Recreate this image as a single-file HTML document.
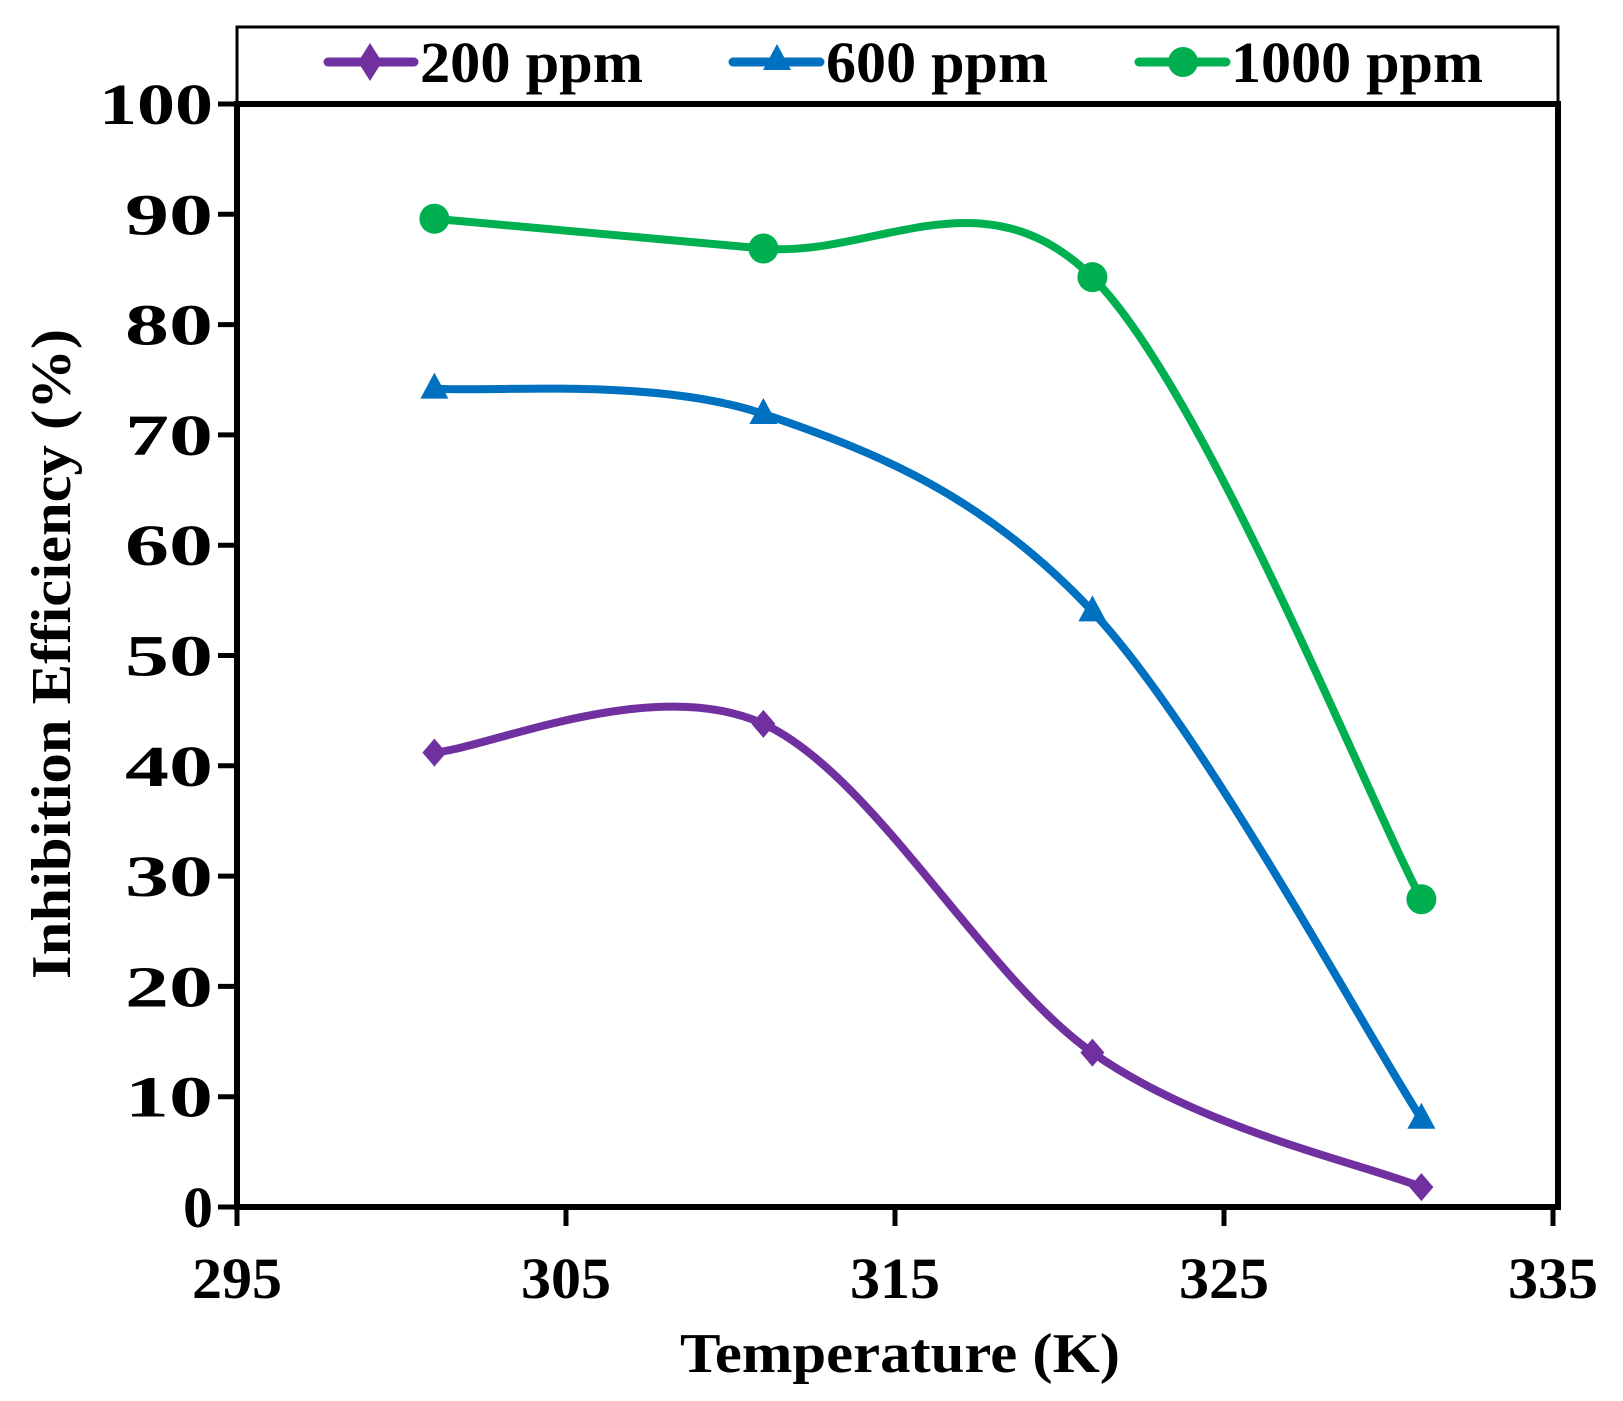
<!DOCTYPE html>
<html><head><meta charset="utf-8"><style>
html,body{margin:0;padding:0;background:#fff;}
svg{display:block;}
text{font-family:"Liberation Serif",serif;font-weight:bold;fill:#000;}
</style></head><body>
<svg id="s" width="1623" height="1401" viewBox="0 0 1623 1401" xmlns="http://www.w3.org/2000/svg">
<rect x="0" y="0" width="1623" height="1401" fill="#fff"/>
<rect x="237" y="27" width="1321" height="78" fill="#fff" stroke="#000" stroke-width="3"/>
<rect x="237" y="104" width="1321" height="1103" fill="none" stroke="#000" stroke-width="6"/>
<g id="ticks" stroke="#000" stroke-width="5"></g>
<g id="labels" font-size="58"></g>
<g id="series"></g>
<g font-size="58">
<line x1="328" y1="62" x2="414" y2="62" stroke="#7030a0" stroke-width="9" stroke-linecap="round"/>
<polygon points="370,43 382,62 370,81 358,62" fill="#7030a0"/>
<text x="420" y="82" textLength="223" lengthAdjust="spacingAndGlyphs">200 ppm</text>
<line x1="733" y1="62" x2="820" y2="62" stroke="#0070c0" stroke-width="9" stroke-linecap="round"/>
<polygon points="777,44 791,70 763,70" fill="#0070c0"/>
<text x="826" y="82" textLength="222" lengthAdjust="spacingAndGlyphs">600 ppm</text>
<line x1="1139" y1="62" x2="1226" y2="62" stroke="#00b050" stroke-width="9" stroke-linecap="round"/>
<circle cx="1183" cy="62" r="15" fill="#00b050"/>
<text x="1231" y="82" textLength="252" lengthAdjust="spacingAndGlyphs">1000 ppm</text>
</g>
<text x="900" y="1372" font-size="56" text-anchor="middle" textLength="440" lengthAdjust="spacingAndGlyphs">Temperature  (K)</text>
<text transform="translate(70,654) rotate(-90)" font-size="56" text-anchor="middle" textLength="650" lengthAdjust="spacingAndGlyphs">Inhibition  Efficiency (%)</text>
</svg>
<script>
var NS="http://www.w3.org/2000/svg";
function px(x){return 237+(x-295)*32.9;}
function py(y){return 1207-y*11.03;}
function el(n,a,p){var e=document.createElementNS(NS,n);for(var k in a)e.setAttribute(k,a[k]);p.appendChild(e);return e;}
var T=document.getElementById("ticks"),L=document.getElementById("labels"),S=document.getElementById("series");
for(var v=0;v<=100;v+=10){var y=py(v);el("line",{x1:218,y1:y,x2:237,y2:y},T);
var a={x:213,y:y+20,"text-anchor":"end"};
if(v==100){a.textLength=114;a.lengthAdjust="spacingAndGlyphs";}else if(v>0){a.textLength=88;a.lengthAdjust="spacingAndGlyphs";}else{a.textLength=30;a.lengthAdjust="spacingAndGlyphs";}
var t=el("text",a,L);t.textContent=v;}
for(var x=295;x<=335;x+=10){var X=px(x);el("line",{x1:X,y1:1207,x2:X,y2:1226},T);var t=el("text",{x:X,y:1298,"text-anchor":"middle",textLength:90,lengthAdjust:"spacingAndGlyphs"},L);t.textContent=x;}
function path(pts){var d="M"+pts[0][0]+","+pts[0][1];for(var i=0;i<pts.length-1;i++){var p0=pts[Math.max(i-1,0)],p1=pts[i],p2=pts[i+1],p3=pts[Math.min(i+2,pts.length-1)];
var c1=[p1[0]+(p2[0]-p0[0])/6,p1[1]+(p2[1]-p0[1])/6],c2=[p2[0]-(p3[0]-p1[0])/6,p2[1]-(p3[1]-p1[1])/6];
d+=" C"+c1+" "+c2+" "+p2;}return d;}
var xs=[301,311,321,331];
var data=[{c:"#7030a0",v:[41.2,43.8,14,1.8],m:"d"},{c:"#0070c0",v:[74.2,71.9,54,8],m:"t"},{c:"#00b050",v:[89.6,86.9,84.3,27.9],m:"o"}];
data.forEach(function(s){var pts=xs.map(function(x,i){return [px(x),py(s.v[i])];});
el("path",{d:path(pts),fill:"none",stroke:s.c,"stroke-width":8,"stroke-linejoin":"round"},S);
pts.forEach(function(p){if(s.m=="d")el("polygon",{points:[p[0],p[1]-14,p[0]+12,p[1],p[0],p[1]+14,p[0]-12,p[1]].join(","),fill:s.c},S);
else if(s.m=="t")el("polygon",{points:[p[0],p[1]-16,p[0]+14,p[1]+10,p[0]-14,p[1]+10].join(","),fill:s.c},S);
else el("circle",{cx:p[0],cy:p[1],r:15,fill:s.c},S);});});
</script>
</body></html>
